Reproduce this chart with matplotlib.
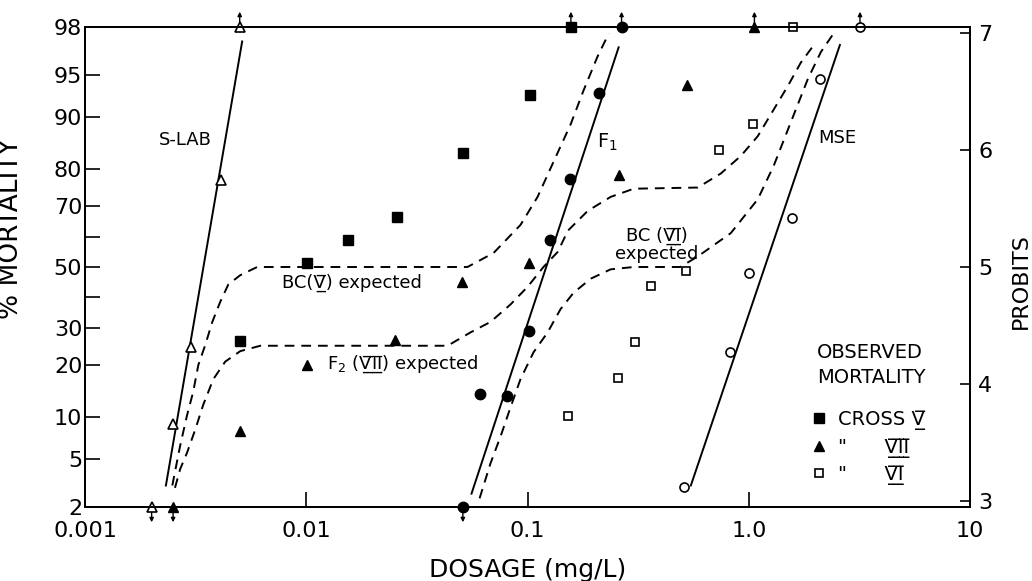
import matplotlib
matplotlib.use("Agg")
import matplotlib.pyplot as plt
import numpy as np
from statistics import NormalDist

plt.rcParams["font.family"] = ["DejaVu Sans"]
plt.rcParams["lines.scale_dashes"] = False

# observed mortality: dose (mg/L) and % mortality
slab_dose = [0.002, 0.0025, 0.003, 0.0041, 0.005]
slab_mort = [2, 8.9, 24.6, 77.2, 98]
f1_dose = [0.051, 0.061, 0.081, 0.101, 0.126, 0.155, 0.21, 0.266]
f1_mort = [2, 13.9, 13.5, 29.3, 59.3, 77.4, 93.2, 98]
mse_dose = [0.508, 0.82, 1.0, 1.565, 2.095, 3.18]
mse_mort = [3.0, 23.3, 47.9, 66.2, 94.6, 98]
crossV_dose = [0.005, 0.0101, 0.0154, 0.0258, 0.0513, 0.103, 0.157]
crossV_mort = [26.4, 51.3, 59.1, 66.7, 83.6, 93.0, 98]
crossVII_dose = [0.0025, 0.005, 0.0101, 0.0253, 0.0508, 0.101, 0.258, 0.526, 1.06]
crossVII_mort = [2, 8.0, 20.2, 26.7, 44.9, 51.5, 78.5, 94.0, 98]
crossVI_dose = [0.152, 0.256, 0.305, 0.36, 0.519, 0.731, 1.04, 1.58]
crossVI_mort = [10.1, 17.1, 26.0, 43.7, 48.6, 84.2, 89.0, 98]

# points drawn with an arrow (beyond the scale)
up_dose = [0.005, 0.157, 0.266, 1.06, 3.18]
down_dose = [0.002, 0.0025, 0.051]

# fitted probit lines (dose, probit) end points
slab_line_dose = [0.00232, 0.00513]
slab_line_prob = [3.13, 6.93]
f1_line_dose = [0.0558, 0.258]
f1_line_prob = [3.06, 6.88]
mse_line_dose = [0.547, 2.58]
mse_line_prob = [3.13, 6.90]

# expected curves (dose, probit)
bcV_dose = [0.00248, 0.00269, 0.00289, 0.00308, 0.00325, 0.00349, 0.00376, 0.00408,
            0.00444, 0.00503, 0.0060, 0.0094, 0.0266, 0.0535, 0.0702, 0.0929, 0.111,
            0.131, 0.1565, 0.179, 0.207, 0.233]
bcV_prob = [3.13, 3.47, 3.73, 3.93, 4.16, 4.33, 4.53, 4.70,
            4.85, 4.93, 5.0, 5.0, 5.0, 5.0, 5.12, 5.36, 5.60,
            5.90, 6.22, 6.51, 6.80, 7.0]
f2_dose = [0.00255, 0.00269, 0.00289, 0.00315, 0.00342, 0.0038, 0.0043, 0.00503,
           0.0062, 0.0158, 0.0435, 0.0552, 0.068, 0.0838, 0.1, 0.118, 0.137, 0.152,
           0.187, 0.2375, 0.302, 0.588, 0.747, 0.92, 1.098, 1.298, 1.502, 1.719, 1.968]
f2_prob = [3.11, 3.27, 3.41, 3.61, 3.82, 4.04, 4.19, 4.28,
           4.326, 4.326, 4.326, 4.44, 4.53, 4.68, 4.83, 5.0, 5.13, 5.31,
           5.48, 5.60, 5.67, 5.68, 5.80, 5.95, 6.12, 6.35, 6.55, 6.75, 6.90]
bcVI_dose = [0.0607, 0.068, 0.0755, 0.0838, 0.0929, 0.1064, 0.1232, 0.141, 0.1615,
             0.193, 0.2375, 0.302, 0.49, 0.5876, 0.829, 1.098, 1.298, 1.549, 1.849,
             2.117, 2.399]
bcVI_prob = [3.02, 3.32, 3.55, 3.80, 4.04, 4.27, 4.44, 4.64, 4.78,
             4.90, 4.98, 5.0, 5.0, 5.09, 5.29, 5.58, 5.87, 6.24, 6.61,
             6.84, 6.99]

pct_ticks = [2, 5, 10, 20, 30, 40, 50, 60, 70, 80, 90, 95, 98]
pct_labels = ["2", "5", "10", "20", "30", "", "50", "", "70", "80", "90", "95", "98"]
x_ticks = [0.001, 0.01, 0.1, 1.0, 10]
x_labels = ["0.001", "0.01", "0.1", "1.0", "10"]
probit_ticks = [3, 4, 5, 6, 7]


def probit(pct):
    return [5 + NormalDist().inv_cdf(v / 100) for v in pct]


def roman(s):
    # roman numeral with bars above and below
    return "".join(c + "\u0305\u0332" for c in s)


fig = plt.figure(figsize=(10.32, 5.81), dpi=100)
ax = fig.add_axes([0.0824, 0.1274, 0.8576, 0.8261])
ax.set_xscale("log")
ax.set_xlim(0.001, 10)
ylo, yhi = probit([2, 98])
ax.set_ylim(ylo, yhi)

kw = dict(color="black", lw=1.4)
ax.plot(slab_line_dose, slab_line_prob, **kw)
ax.plot(f1_line_dose, f1_line_prob, **kw)
ax.plot(mse_line_dose, mse_line_prob, **kw)
dkw = dict(color="black", lw=1.4, dashes=(7, 5))
ax.plot(bcV_dose, bcV_prob, **dkw)
ax.plot(f2_dose, f2_prob, **dkw)
ax.plot(bcVI_dose, bcVI_prob, **dkw)

mk = dict(ls="none", clip_on=False, zorder=5, color="black")
ax.plot(slab_dose, probit(slab_mort), marker="^", ms=7, mfc="white", mew=1.2, **mk)
ax.plot(f1_dose, probit(f1_mort), marker="o", ms=7.5, **mk)
ax.plot(mse_dose, probit(mse_mort), marker="o", ms=6.5, mfc="white", mew=1.2, **mk)
hV, = ax.plot(crossV_dose, probit(crossV_mort), marker="s", ms=7, **mk)
hVII, = ax.plot(crossVII_dose, probit(crossVII_mort), marker="^", ms=7.5, **mk)
hVI, = ax.plot(crossVI_dose, probit(crossVI_mort), marker="s", ms=6, mfc="white", mew=1.2, **mk)

akw = dict(arrowstyle="<|-", color="black", lw=1.0, mutation_scale=6, shrinkA=0, shrinkB=0)
for d in up_dose:
    ax.annotate("", xy=(d, yhi), xytext=(0, 11), textcoords="offset points",
                arrowprops=akw, annotation_clip=False)
for d in down_dose:
    ax.annotate("", xy=(d, ylo), xytext=(0, -11), textcoords="offset points",
                arrowprops=akw, annotation_clip=False)

tfs = 13
ax.text(0.00284, 6.09, "S-LAB", fontsize=tfs, ha="center", va="center")
ax.text(0.205, 6.07, "F$_1$", fontsize=tfs + 1, ha="left", va="center")
ax.text(2.05, 6.10, "MSE", fontsize=tfs, ha="left", va="center")
ax.text(0.0078, 4.86, "BC(" + roman("V") + ") expected", fontsize=tfs, ha="left", va="center")
ax.text(0.01245, 4.17, "F$_2$ (" + roman("VII") + ") expected", fontsize=tfs, ha="left", va="center")
ax.text(0.3835, 5.27, "BC (" + roman("VI") + ")", fontsize=tfs, ha="center", va="center")
ax.text(0.3835, 5.115, "expected", fontsize=tfs, ha="center", va="center")

ax.text(0.827, 0.296, "OBSERVED\nMORTALITY", transform=ax.transAxes, fontsize=14,
        ha="left", va="center", linespacing=1.35)
leg = ax.legend([hV, hVII, hVI],
                ["CROSS " + roman("V"), "\"      " + roman("VII"), "\"      " + roman("VI")],
                loc="upper left", bbox_to_anchor=(0.809, 0.222),
                frameon=False, fontsize=14,
                handlelength=0.8, handletextpad=0.6, labelspacing=0.38, borderpad=0)

ax.set_xticks(x_ticks)
ax.set_xticklabels(x_labels)
ax.xaxis.set_minor_locator(matplotlib.ticker.NullLocator())
ax.set_yticks(probit(pct_ticks))
ax.set_yticklabels(pct_labels)
ax.tick_params(axis="both", direction="in", length=11, width=1.2, labelsize=16)
ax.tick_params(axis="x", pad=10)
ax.tick_params(axis="y", pad=2)

ax2 = ax.twinx()
ax2.set_ylim(ylo, yhi)
ax2.set_yticks(probit_ticks)
ax2.tick_params(axis="y", direction="in", length=7, width=1.2, labelsize=16, pad=6)

for a in (ax, ax2):
    for s in a.spines.values():
        s.set_linewidth(1.4)

ax.set_xlabel("DOSAGE (mg/L)", fontsize=18, labelpad=12)
ax.set_ylabel("% MORTALITY", fontsize=19)
ax.yaxis.set_label_coords(-0.069, 0.58)
ax2.set_ylabel("PROBITS", fontsize=16, rotation=90)
ax2.yaxis.set_label_coords(1.046, 0.47)

fig.savefig("out.png", dpi=100)
